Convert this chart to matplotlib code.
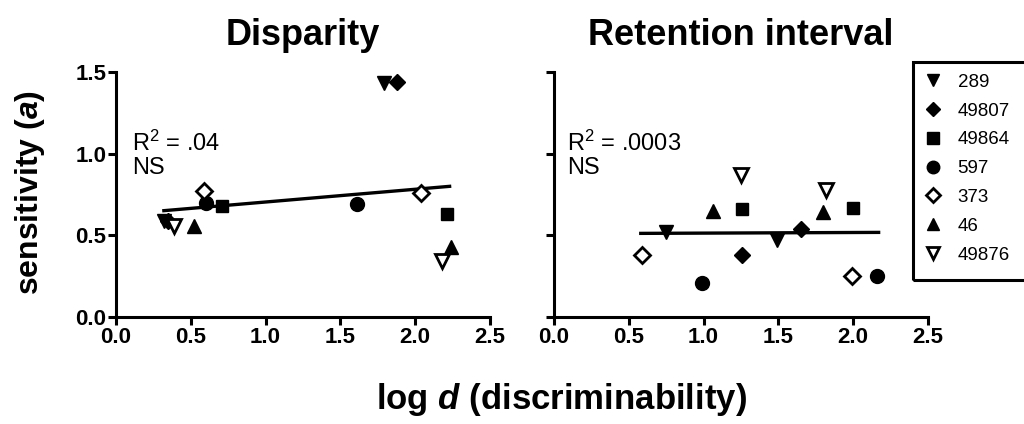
import matplotlib
matplotlib.use("Agg")
import matplotlib.pyplot as plt
from matplotlib.patches import Rectangle
from matplotlib.lines import Line2D

plt.rcParams['font.family'] = ['Liberation Sans', 'DejaVu Sans']
plt.rcParams['mathtext.fontset'] = 'custom'
plt.rcParams['mathtext.rm'] = 'Liberation Sans'
plt.rcParams['mathtext.it'] = 'Liberation Sans:italic:bold'

# subjects and marker styles (open = white face)
subjects = ['289', '49807', '49864', '597', '373', '46', '49876']
markers = ['v', 'D', 's', 'o', 'D', '^', 'v']
is_open = [False, False, False, False, True, False, True]
msizes = [10, 8, 9, 10, 8, 10, 10]

# Disparity panel: two points per subject
disp_x = [[0.32, 1.79], [0.35, 1.88], [0.71, 2.21], [0.60, 1.61],
          [0.59, 2.04], [0.52, 2.24], [0.39, 2.18]]
disp_y = [[0.59, 1.43], [0.59, 1.44], [0.68, 0.63], [0.70, 0.69],
          [0.77, 0.76], [0.56, 0.43], [0.56, 0.34]]
disp_fit_x = [0.32, 2.23]
disp_fit_y = [0.651, 0.80]

# Retention interval panel
ret_x = [[0.75, 1.49], [1.26, 1.65], [1.26, 2.00], [0.99, 2.16],
         [0.59, 1.99], [1.06, 1.80], [1.25, 1.82]]
ret_y = [[0.52, 0.47], [0.38, 0.54], [0.66, 0.67], [0.21, 0.25],
         [0.38, 0.25], [0.65, 0.64], [0.87, 0.78]]
ret_fit_x = [0.58, 2.17]
ret_fit_y = [0.512, 0.518]

fig = plt.figure(figsize=(10.24, 4.24), dpi=100)
ax1 = fig.add_axes([116/1024, 1 - 317/424, 374/1024, 245/424])
ax2 = fig.add_axes([554/1024, 1 - 317/424, 374/1024, 245/424])


def style(ax, show_ylabels):
    for s in ['top', 'right']:
        ax.spines[s].set_visible(False)
    for s in ['left', 'bottom']:
        ax.spines[s].set_linewidth(2.2)
    ax.set_xlim(0, 2.5)
    ax.set_ylim(0, 1.5)
    ax.set_xticks([0, 0.5, 1.0, 1.5, 2.0, 2.5])
    ax.set_yticks([0, 0.5, 1.0, 1.5])
    ax.set_xticklabels(['0.0', '0.5', '1.0', '1.5', '2.0', '2.5'],
                       fontsize=16, fontweight='bold')
    if show_ylabels:
        ax.set_yticklabels(['0.0', '0.5', '1.0', '1.5'], fontsize=16, fontweight='bold')
    else:
        ax.set_yticklabels([])
    ax.tick_params(width=2.2, length=6, direction='out', pad=1)
    ax.patch.set_alpha(0)


def draw(ax, xs, ys, fx, fy, r2, tx):
    ax.plot(fx, fy, color='black', lw=2.4, zorder=2)
    for i in range(len(subjects)):
        face = 'white' if is_open[i] else 'black'
        ax.plot(xs[i], ys[i], linestyle='none', marker=markers[i], ms=msizes[i],
                mfc=face, mec='black', mew=2 if is_open[i] else 1, zorder=3,
                clip_on=False)
    ax.text(tx, 1.14, r'R$^2$ = ' + r2 + '\nNS', fontsize=17,
            va='top', ha='left', linespacing=1.05)


draw(ax1, disp_x, disp_y, disp_fit_x, disp_fit_y, '.04', 0.11)
draw(ax2, ret_x, ret_y, ret_fit_x, ret_fit_y, '.0003', 0.085)
style(ax1, True)
style(ax2, False)

fig.text(303/1024, 1 - 45/424, 'Disparity', fontsize=26, fontweight='bold',
         ha='center', va='baseline')
fig.text(741/1024, 1 - 45/424, 'Retention interval', fontsize=26, fontweight='bold',
         ha='center', va='baseline')
fig.text(30/1024, 1 - 193/424, r'sensitivity ($\it{a}$)', fontsize=23,
         fontweight='bold', rotation=90, ha='center', va='center')
fig.text(561/1024, 1 - 400/424, r'log $\it{d}$ (discriminability)', fontsize=25,
         fontweight='bold', ha='center', va='center')

# legend
handles = []
for i in range(len(subjects)):
    face = 'white' if is_open[i] else 'black'
    handles.append(Line2D([], [], linestyle='none', marker=markers[i],
                          ms=msizes[i] - 1, mfc=face, mec='black',
                          mew=2 if is_open[i] else 1))
fig.legend(handles, subjects, loc='upper left', frameon=False,
           bbox_to_anchor=(907/1024, 1 - 57/424), fontsize=13.5,
           handlelength=1.0, handletextpad=0.8, labelspacing=0.62,
           borderpad=0.4)
fig.patches.append(Rectangle((913/1024, 1 - 280/424), 130/1024, 218/424,
                             transform=fig.transFigure, fill=False,
                             edgecolor='black', linewidth=2.2))

fig.savefig('out.png', dpi=100)
